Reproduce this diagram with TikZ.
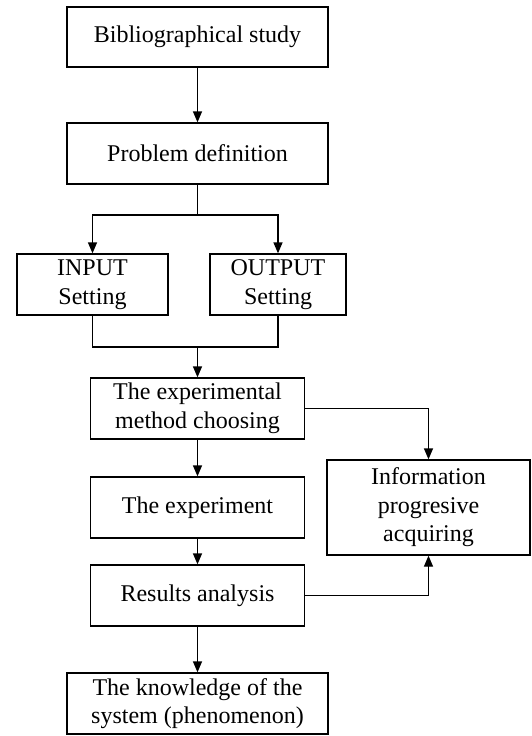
\documentclass[tikz,border=0pt]{standalone}
\usepackage{fontspec}
\setmainfont{Liberation Serif}
\usetikzlibrary{arrows.meta}

\begin{document}
\begin{tikzpicture}[x=1pt,y=-1pt,
                box/.style={draw,line width=1.3pt,align=center,inner sep=0pt,
                        font=\fontsize{24}{28.5}\selectfont},
                arr/.style={line width=1.3pt,-{Triangle[length=11pt,width=9pt]}},
                lin/.style={line width=1.3pt}]
                \useasboundingbox (0,0) rectangle (531,736);

                \node[box,minimum width=261pt,minimum height=60pt] (bib) at (197.5,37) {Bibliographical study};
                \node[box,minimum width=261pt,minimum height=61pt] (prob) at (197.5,153.5) {Problem definition};
                \node[box,minimum width=151pt,minimum height=61pt] (inp) at (92.5,284.5) {INPUT\\Setting};
                \node[box,minimum width=136pt,minimum height=61pt] (outp) at (278,284.5) {OUTPUT\\Setting};
                \node[box,minimum width=214pt,minimum height=61pt] (meth) at (197.5,408.5) {The experimental\\method choosing};
                \node[box,minimum width=214pt,minimum height=61pt] (expe) at (197.5,507.5) {The experiment};
                \node[box,minimum width=214pt,minimum height=61pt] (res) at (197.5,595.5) {Results analysis};
                \node[box,minimum width=203pt,minimum height=95pt] (info) at (428.5,507.5) {Information\\progresive\\acquiring};
                \node[box,minimum width=261pt,minimum height=61pt] (know) at (197.5,703.5) {The knowledge of the\\system (phenomenon)};

                \coordinate (split) at (197.5,215);
                \coordinate (merge) at (197.5,347);

                \draw[arr] (bib) -- (prob);
                \draw[lin] (prob) -- (split);
                \draw[arr] (split) -| (inp);
                \draw[arr] (split) -| (outp);
                \draw[lin] (inp) |- (merge);
                \draw[lin] (outp) |- (merge);
                \draw[arr] (merge) -- (meth);
                \draw[arr] (meth) -- (expe);
                \draw[arr] (expe) -- (res);
                \draw[arr] (res) -- (know);
                \draw[arr] (meth) -| (info);
                \draw[arr] (res) -| (info);
            \end{tikzpicture}
\end{document}
